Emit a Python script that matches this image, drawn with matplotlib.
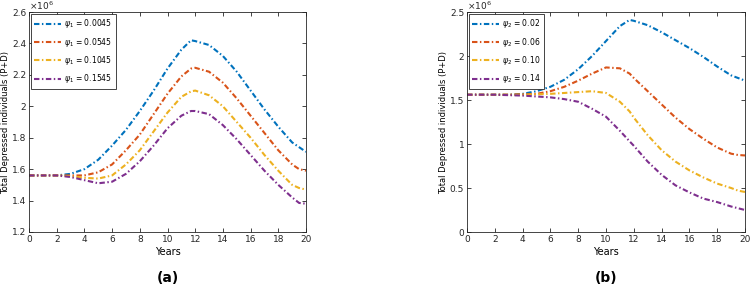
import matplotlib.pyplot as plt
from matplotlib.ticker import FuncFormatter

anos = [0, 1, 2, 3, 4, 5, 6, 7, 8, 9, 10, 11, 11.7, 12, 13, 14, 15, 16, 17, 18, 19, 19.5, 20]

# panel (a): varying psi_1 (values in millions)
psi1_labels = ["0.0045", "0.0545", "0.1045", "0.1545"]
a_azul = [1.56, 1.56, 1.56, 1.57, 1.60, 1.66, 1.75, 1.85, 1.97, 2.10, 2.24, 2.36, 2.42, 2.415, 2.39, 2.32, 2.22, 2.10, 1.98, 1.87, 1.77, 1.74, 1.71]
a_verm = [1.56, 1.56, 1.56, 1.56, 1.56, 1.58, 1.63, 1.72, 1.82, 1.95, 2.08, 2.19, 2.24, 2.245, 2.22, 2.15, 2.05, 1.94, 1.83, 1.72, 1.63, 1.60, 1.59]
a_amar = [1.56, 1.56, 1.56, 1.555, 1.545, 1.54, 1.56, 1.63, 1.72, 1.84, 1.96, 2.06, 2.095, 2.10, 2.07, 2.00, 1.90, 1.80, 1.69, 1.59, 1.50, 1.48, 1.47]
a_roxo = [1.56, 1.56, 1.56, 1.55, 1.53, 1.51, 1.52, 1.57, 1.65, 1.75, 1.86, 1.94, 1.97, 1.97, 1.95, 1.88, 1.79, 1.69, 1.59, 1.50, 1.42, 1.385, 1.38]

# panel (b): varying psi_2 (values in millions)
psi2_labels = ["0.02", "0.06", "0.10", "0.14"]
b_azul = [1.56, 1.56, 1.56, 1.56, 1.57, 1.60, 1.65, 1.73, 1.85, 2.00, 2.17, 2.34, 2.41, 2.40, 2.35, 2.27, 2.18, 2.09, 1.99, 1.88, 1.78, 1.75, 1.72]
b_verm = [1.56, 1.56, 1.56, 1.56, 1.565, 1.57, 1.60, 1.65, 1.72, 1.80, 1.87, 1.86, 1.80, 1.75, 1.60, 1.45, 1.30, 1.17, 1.06, 0.96, 0.89, 0.875, 0.87]
b_amar = [1.56, 1.56, 1.56, 1.56, 1.56, 1.565, 1.57, 1.58, 1.59, 1.60, 1.58, 1.48, 1.37, 1.30, 1.10, 0.93, 0.80, 0.70, 0.62, 0.55, 0.50, 0.47, 0.455]
b_roxo = [1.56, 1.56, 1.56, 1.555, 1.55, 1.54, 1.53, 1.51, 1.48, 1.40, 1.31, 1.15, 1.03, 0.98, 0.80, 0.65, 0.53, 0.45, 0.38, 0.34, 0.29, 0.27, 0.25]

cores = ["#0072BD", "#D95319", "#EDB120", "#7E2F8E"]

fig = plt.figure(figsize=(7.5, 2.86), dpi=100)
ax_a = fig.add_axes([29/750, 1 - 232/286, 277/750, 220/286])
ax_b = fig.add_axes([467/750, 1 - 232/286, 278/750, 220/286])

def painel(ax, series, nomes, sub, ylim, yticks, letra):
    for s, cor, nome in zip(series, cores, nomes):
        ax.plot(anos, s, color=cor, linestyle=(0, (2.6, 1.2, 0.7, 1.2)), linewidth=1.5,
                label=r"$\psi_{%s}$ = %s" % (sub, nome))
    ax.set_xlim(0, 20)
    ax.set_ylim(*ylim)
    ax.set_xticks(range(0, 21, 2))
    ax.set_yticks(yticks)
    ax.yaxis.set_major_formatter(FuncFormatter(lambda v, p: "%g" % round(v, 2)))
    ax.tick_params(direction="in", top=True, right=True, labelsize=6.5,
                   length=3, width=0.6, colors="#262626", pad=2)
    for sp in ax.spines.values():
        sp.set_color("#262626")
        sp.set_linewidth(0.6)
    ax.set_xlabel("Years", fontsize=7, labelpad=2)
    ax.set_ylabel("Total Depressed individuals (P+D)", fontsize=6, labelpad=1)
    ax.text(0, 1.0, r"$\times10^6$", transform=ax.transAxes, fontsize=6.5,
            va="bottom", ha="left", color="#262626")
    leg = ax.legend(loc="upper left", fontsize=5.5, handlelength=3.5,
                    borderpad=0.5, labelspacing=0.7, handletextpad=0.4,
                    fancybox=False, framealpha=1, borderaxespad=0.2)
    leg.get_frame().set_edgecolor("#262626")
    leg.get_frame().set_linewidth(0.6)
    ax.text(0.5, -0.21, letra, transform=ax.transAxes, fontsize=10,
            fontweight="bold", ha="center", va="center")

painel(ax_a, [a_azul, a_verm, a_amar, a_roxo], psi1_labels, "1",
       (1.2, 2.6), [1.2, 1.4, 1.6, 1.8, 2.0, 2.2, 2.4, 2.6], "(a)")
painel(ax_b, [b_azul, b_verm, b_amar, b_roxo], psi2_labels, "2",
       (0, 2.5), [0, 0.5, 1, 1.5, 2, 2.5], "(b)")

fig.savefig("out.png", dpi=100)
